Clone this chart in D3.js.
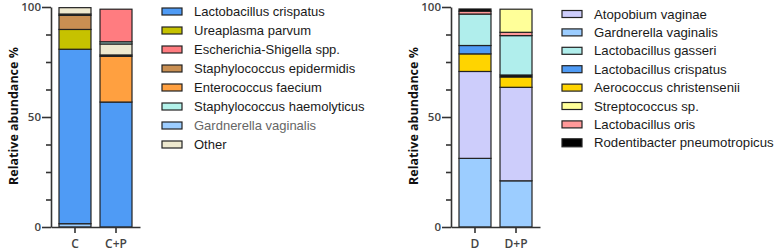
<!DOCTYPE html>
<html>
  <head>
    <title>Relative abundance</title>
    <script src="https://d3js.org/d3.v7.min.js"></script>
    <style>
      body { margin: 0; background: #fff; }
      svg { display: block; }
    </style>
  </head>
  <body>
    <script>
      // left panel: stack order is bottom -> top for each bar
      const leftCategories = ['C', 'C+P'];
      const cSpecies = ['Gardnerella vaginalis', 'Lactobacillus crispatus', 'Ureaplasma parvum',
                        'Staphylococcus epidermidis', 'Unassigned', 'Other'];
      const cValues = [1.5, 79.3, 9.0, 6.4, 0.6, 2.9];
      const cpSpecies = ['Lactobacillus crispatus', 'Enterococcus faecium', 'Unassigned', 'Other',
                         'Staphylococcus haemolyticus', 'Escherichia-Shigella spp.'];
      const cpValues = [56.8, 20.8, 0.6, 5.0, 1.0, 14.8];
      const leftLegend = ['Lactobacillus crispatus', 'Ureaplasma parvum', 'Escherichia-Shigella spp.',
                          'Staphylococcus epidermidis', 'Enterococcus faecium',
                          'Staphylococcus haemolyticus', 'Gardnerella vaginalis', 'Other'];

      // right panel
      const rightCategories = ['D', 'D+P'];
      const dSpecies = ['Gardnerella vaginalis', 'Atopobium vaginae', 'Aerococcus christensenii',
                        'Lactobacillus crispatus', 'Lactobacillus gasseri', 'Lactobacillus oris',
                        'Rodentibacter pneumotropicus'];
      const dValues = [31.2, 39.5, 8.0, 3.8, 14.3, 1.3, 1.0];
      const dpSpecies = ['Gardnerella vaginalis', 'Atopobium vaginae', 'Aerococcus christensenii',
                         'Rodentibacter pneumotropicus', 'Lactobacillus gasseri', 'Lactobacillus oris',
                         'Streptococcus sp.'];
      const dpValues = [21.0, 42.5, 4.7, 0.9, 17.9, 1.5, 10.5];
      const rightLegend = ['Atopobium vaginae', 'Gardnerella vaginalis', 'Lactobacillus gasseri',
                           'Lactobacillus crispatus', 'Aerococcus christensenii', 'Streptococcus sp.',
                           'Lactobacillus oris', 'Rodentibacter pneumotropicus'];

      const majorTicks = [0, 50, 100];
      const minorTicks = [12.5, 25, 37.5, 62.5, 75, 87.5];

      const colors = {
        'Lactobacillus crispatus': '#4f9bf5',
        'Ureaplasma parvum': '#c6c200',
        'Escherichia-Shigella spp.': '#ff7c80',
        'Staphylococcus epidermidis': '#c98f52',
        'Enterococcus faecium': '#ffa040',
        'Staphylococcus haemolyticus': '#b2f2ea',
        'Gardnerella vaginalis': '#9ccdff',
        'Other': '#eee9cf',
        'Unassigned': '#222',
        'Atopobium vaginae': '#cdcdfb',
        'Lactobacillus gasseri': '#b0eeec',
        'Aerococcus christensenii': '#ffd400',
        'Streptococcus sp.': '#ffff99',
        'Lactobacillus oris': '#ff9999',
        'Rodentibacter pneumotropicus': '#000'
      };

      const w = 777, h = 251;
      const svg = d3.select('body').append('svg').attr('width', w).attr('height', h);

      function drawPanel(x0, cats, stacks, legend, legendX, legendY, legendStep, fontSize, greyItem) {
        const g = svg.append('g');
        const xScale = d3.scaleBand().domain(cats).range([x0, x0 + 89])
                         .paddingInner(0.22).paddingOuter(0.195);
        const yScale = d3.scaleLinear().domain([0, 100]).range([227, 7]);

        stacks.forEach((s, i) => {
          let acc = 0;
          s.species.forEach((sp, j) => {
            const v = s.values[j];
            g.append('rect')
             .attr('x', xScale(cats[i]))
             .attr('width', xScale.bandwidth())
             .attr('y', yScale(acc + v))
             .attr('height', yScale(acc) - yScale(acc + v))
             .attr('fill', colors[sp])
             .attr('stroke', '#222')
             .attr('stroke-width', 1.2);
            acc += v;
          });
        });

        const yAxis = d3.axisLeft(yScale).tickValues(majorTicks).tickSize(9).tickSizeOuter(0);
        const yMinor = d3.axisLeft(yScale).tickValues(minorTicks).tickSize(5)
                         .tickSizeOuter(0).tickFormat('');
        const xAxis = d3.axisBottom(xScale).tickSize(6).tickSizeOuter(0);

        const ya = g.append('g').attr('transform', `translate(${x0}, 0)`).call(yAxis);
        g.append('g').attr('transform', `translate(${x0}, 0)`).call(yMinor)
         .select('.domain').remove();
        const xa = g.append('g').attr('transform', 'translate(0, 227)').call(xAxis);

        [ya, xa].forEach(a => {
          a.selectAll('.domain, line').attr('stroke', '#333').attr('stroke-width', 1.6);
          a.selectAll('text').attr('fill', '#444').style('font-family', 'Open Sans')
           .style('font-weight', 600).style('font-size', '11.5px');
        });
        g.selectAll('g line').attr('stroke', '#333').attr('stroke-width', 1.6);
        ya.selectAll('text').attr('x', -10);
        xa.selectAll('text').attr('y', 12).style('font-size', '12px');

        g.append('text')
         .attr('transform', `translate(${x0 - 33}, 116) rotate(-90)`)
         .attr('text-anchor', 'middle')
         .style('font-family', 'Open Sans').style('font-weight', 700).style('font-size', '12.5px')
         .attr('fill', '#111')
         .text('Relative abundance %');

        const lg = g.append('g');
        legend.forEach((name, i) => {
          const cy = legendY + i * legendStep;
          const black = name === 'Rodentibacter pneumotropicus';
          lg.append('rect')
            .attr('x', legendX).attr('y', cy - (black ? 4 : 3.5))
            .attr('width', 20).attr('height', black ? 8 : 7)
            .attr('fill', colors[name]).attr('stroke', '#222').attr('stroke-width', 1.2);
          lg.append('text')
            .attr('x', legendX + 32).attr('y', cy + 4.5)
            .style('font-family', 'Liberation Sans').style('font-size', fontSize)
            .attr('fill', name === greyItem ? '#666' : '#1a1a1a')
            .text(name);
        });
      }

      drawPanel(51, leftCategories,
                [{species: cSpecies, values: cValues}, {species: cpSpecies, values: cpValues}],
                leftLegend, 162, 11.5, 19, '13px', 'Gardnerella vaginalis');
      drawPanel(451, rightCategories,
                [{species: dSpecies, values: dValues}, {species: dpSpecies, values: dpValues}],
                rightLegend, 562, 14, 18.4, '13.2px', null);
    </script>
  </body>
</html>
